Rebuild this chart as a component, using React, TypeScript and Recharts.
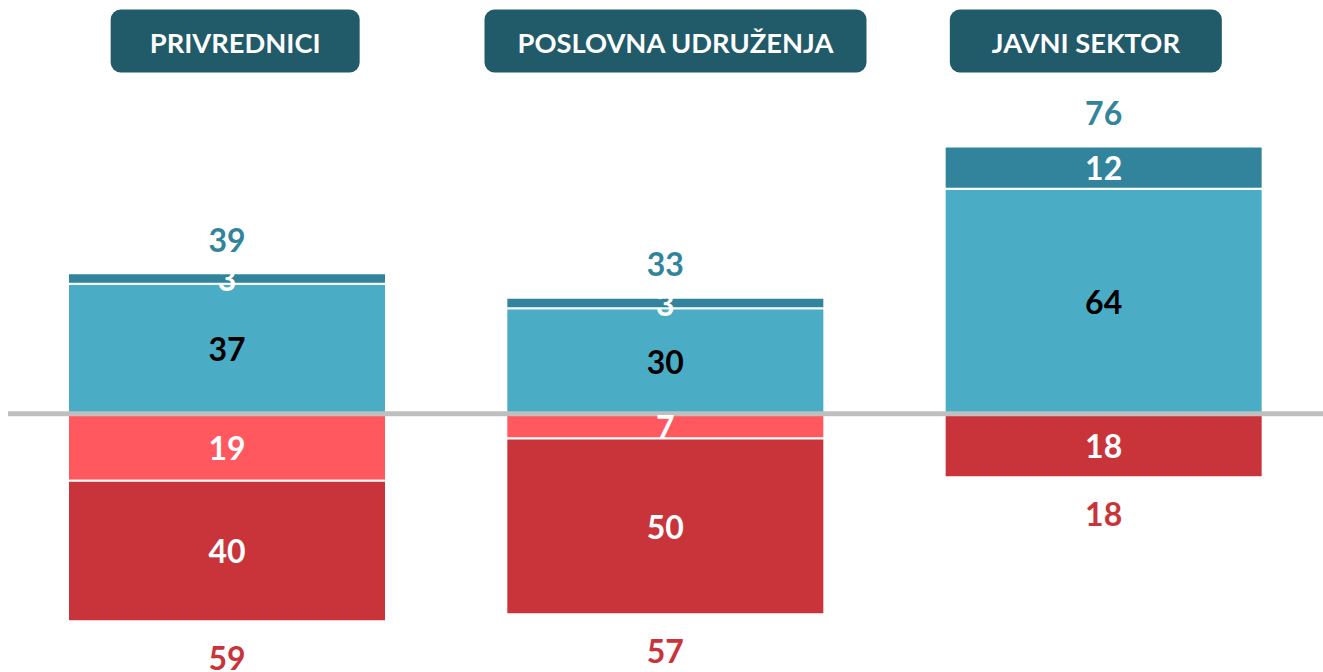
import React from 'react';
import { BarChart, Bar, XAxis, YAxis, ReferenceLine, LabelList } from 'recharts';

// ---- data ----
const categories = ['PRIVREDNICI', 'POSLOVNA UDRUŽENJA', 'JAVNI SEKTOR'];
const positiveMain = [37, 30, 64];
const positiveTop = [3, 3, 12];
const negativeMain = [-19, -7, 0];
const negativeBottom = [-40, -50, -18];
const positiveTotals = [39, 33, 76];
const negativeTotals = [59, 57, 18];

const data = categories.map((name, i) => ({
  name,
  pm: positiveMain[i],
  pt: positiveTop[i],
  nm: negativeMain[i],
  nb: negativeBottom[i],
}));

// ---- style ----
const FONT = 'Lato, "Open Sans", sans-serif';
const C_HEADER = '#215a69';
const C_PM = '#4bacc6';
const C_PT = '#31849b';
const C_NM = '#ff585e';
const C_NB = '#c9343b';
const HEADER_W = [249, 382, 272];
const HEADER_DX = [8, 10, -18];

const HeaderTick = (props: any) => {
  const { x, payload } = props;
  const i = payload?.index ?? props.index ?? 0;
  const w = HEADER_W[i];
  const cx = x + HEADER_DX[i];
  return (
    <g>
      <rect x={cx - w / 2} y={9.5} width={w} height={63} rx={10} ry={10} fill={C_HEADER} />
      <text x={cx} y={52.5} textAnchor="middle" fill="#fff" fontFamily={FONT} fontWeight={700} fontSize={27.3}>
        {payload.value}
      </text>
    </g>
  );
};

const geom = (props: any) => {
  let { x, y, width, height } = props;
  if (x === undefined && props.viewBox) {
    ({ x, y, width, height } = props.viewBox);
  }
  const top = Math.min(y, y + height);
  const bottom = Math.max(y, y + height);
  return { cx: x + width / 2, top, bottom };
};

const segLabel = (color: string) => (props: any) => {
  const { value } = props;
  if (!value) return null;
  const { cx, top, bottom } = geom(props);
  return (
    <text x={cx} y={(top + bottom) / 2 + 12.5} textAnchor="middle" fill={color} fontFamily={FONT} fontWeight={700} fontSize={32}>
      {Math.abs(value)}
    </text>
  );
};

const posTotalLabel = (props: any) => {
  const { index } = props;
  const { cx, top } = geom(props);
  return (
    <text x={cx} y={top - 21.5} textAnchor="middle" fill={C_PT} fontFamily={FONT} fontWeight={700} fontSize={32}>
      {positiveTotals[index]}
    </text>
  );
};

const negTotalLabel = (props: any) => {
  const { index } = props;
  const { cx, bottom } = geom(props);
  return (
    <text x={cx} y={bottom + 48.5} textAnchor="middle" fill={C_NB} fontFamily={FONT} fontWeight={700} fontSize={32}>
      {negativeTotals[index]}
    </text>
  );
};

export default function App() {
  return (
    <div style={{ position: 'fixed', left: 0, top: 0, width: 1323, height: 672, background: '#fff', fontFamily: FONT }}>
      <BarChart
        width={1323}
        height={672}
        data={data}
        stackOffset="sign"
        margin={{ top: 0, right: 0, bottom: 12, left: 8 }}
      >
        <XAxis
          dataKey="name"
          orientation="top"
          height={27}
          axisLine={false}
          tickLine={false}
          interval={0}
          tick={HeaderTick}
        />
        <YAxis hide type="number" domain={[-70, 110]} allowDataOverflow />
        <Bar dataKey="pm" stackId="a" fill={C_PM} stroke="#fff" strokeWidth={2} barSize={318} isAnimationActive={false}>
          <LabelList dataKey="pm" content={segLabel('#000')} />
        </Bar>
        <Bar dataKey="pt" stackId="a" fill={C_PT} stroke="#fff" strokeWidth={2} barSize={318} isAnimationActive={false}>
          <LabelList dataKey="pt" content={segLabel('#fff')} />
          <LabelList dataKey="pt" content={posTotalLabel} />
        </Bar>
        <Bar dataKey="nm" stackId="a" fill={C_NM} stroke="#fff" strokeWidth={2} barSize={318} isAnimationActive={false}>
          <LabelList dataKey="nm" content={segLabel('#fff')} />
        </Bar>
        <Bar dataKey="nb" stackId="a" fill={C_NB} stroke="#fff" strokeWidth={2} barSize={318} isAnimationActive={false}>
          <LabelList dataKey="nb" content={segLabel('#fff')} />
          <LabelList dataKey="nb" content={negTotalLabel} />
        </Bar>
        <ReferenceLine y={0} stroke="#bfbfbf" strokeWidth={5} ifOverflow="extendDomain" />
      </BarChart>
    </div>
  );
}
